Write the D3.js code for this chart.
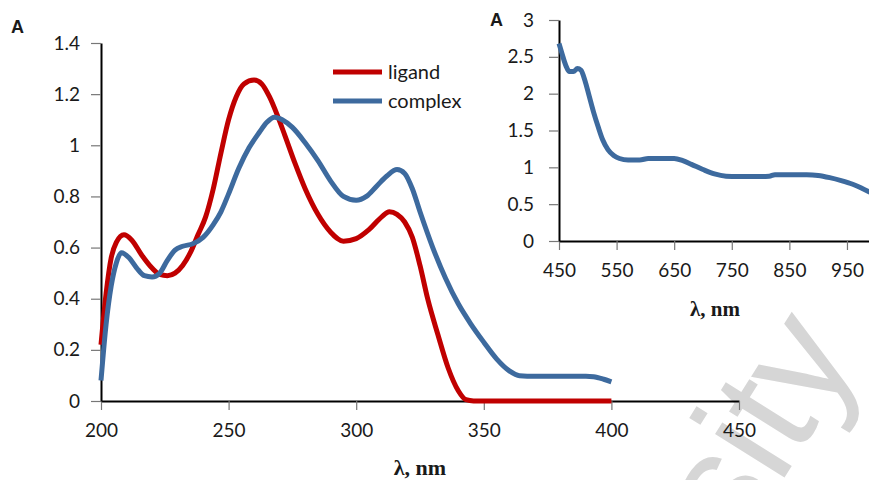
<!DOCTYPE html>
<html>
<head>
<meta charset="utf-8">
<script src="https://cdn.jsdelivr.net/npm/d3@7"></script>
<style>
  body { margin: 0; background: #fff; }
  svg text { font-family: Lato, "Open Sans", sans-serif; }
</style>
</head>
<body>
<script>
const width = 869;
const height = 480;

// main spectrum (200-400 nm)
const seriesNames = ["ligand", "complex"];
const ligandWave = [200, 202, 204, 206, 209, 212, 216, 220, 223, 226, 229, 232, 235, 238, 241, 244, 247, 250, 253, 256, 260, 263, 266, 269, 272, 276, 280, 285, 290, 295, 300, 305, 310, 313, 316, 319, 322, 325, 328, 332, 336, 340, 343, 346, 360, 380, 400];
const ligandAbs = [0.22, 0.42, 0.56, 0.62, 0.65, 0.63, 0.57, 0.52, 0.495, 0.49, 0.5, 0.53, 0.58, 0.65, 0.72, 0.83, 0.97, 1.1, 1.19, 1.24, 1.255, 1.24, 1.19, 1.12, 1.04, 0.93, 0.83, 0.73, 0.66, 0.625, 0.635, 0.67, 0.72, 0.74, 0.73, 0.7, 0.64, 0.53, 0.4, 0.26, 0.13, 0.04, 0.005, 0, 0, 0, 0];
const complexWave = [200, 202, 204, 206, 208, 211, 214, 217, 220, 223, 226, 229, 232, 236, 240, 244, 247, 250, 254, 258, 262, 265, 268, 271, 275, 280, 285, 290, 295, 300, 304, 308, 312, 316, 319, 322, 325, 330, 335, 340, 345, 350, 355, 360, 364, 370, 380, 390, 393, 397, 400];
const complexAbs = [0.08, 0.3, 0.45, 0.54, 0.58, 0.56, 0.52, 0.49, 0.485, 0.5, 0.55, 0.59, 0.605, 0.615, 0.64, 0.69, 0.74, 0.81, 0.91, 0.99, 1.05, 1.09, 1.11, 1.1, 1.07, 1.01, 0.94, 0.86, 0.8, 0.785, 0.8, 0.84, 0.88, 0.905, 0.89, 0.83, 0.74, 0.6, 0.48, 0.38, 0.3, 0.23, 0.165, 0.118, 0.099, 0.097, 0.097, 0.097, 0.095, 0.085, 0.075];
const mainXTicks = [200, 250, 300, 350, 400, 450];
const mainYTicks = [0, 0.2, 0.4, 0.6, 0.8, 1, 1.2, 1.4];

// inset spectrum (450-1000 nm), complex only
const nirWave = [450, 455, 462, 468, 475, 482, 488, 495, 502, 510, 518, 526, 535, 545, 555, 570, 590, 605, 625, 650, 665, 680, 700, 720, 740, 760, 790, 815, 825, 850, 880, 900, 920, 940, 960, 975, 990];
const nirAbs = [2.68, 2.55, 2.38, 2.3, 2.3, 2.34, 2.32, 2.18, 1.98, 1.75, 1.55, 1.37, 1.24, 1.16, 1.12, 1.1, 1.1, 1.12, 1.12, 1.12, 1.09, 1.04, 0.97, 0.91, 0.88, 0.875, 0.875, 0.88, 0.9, 0.9, 0.9, 0.89, 0.86, 0.82, 0.77, 0.72, 0.66];
const insetXTicks = [450, 550, 650, 750, 850, 950];
const insetYTicks = [0, 0.5, 1, 1.5, 2, 2.5, 3];

const colors = ["#C00000", "#3D6A9E"];

const svg = d3.select("body")
  .append("svg")
  .attr("width", width)
  .attr("height", height)
  .style("background", "#fff");

// watermark, runs off the bottom-right corner like in the source
svg.append("text")
  .attr("transform", "translate(738,552) rotate(-58)")
  .style("font-family", "'Liberation Sans', Arial, sans-serif")
  .style("font-size", "155px")
  .style("fill", "#d6d6d6")
  .text("sity");

// scales
const x = d3.scaleLinear().domain([200, 450]).range([101, 739]);
const y = d3.scaleLinear().domain([0, 1.4]).range([401, 43]);
const xi = d3.scaleLinear().domain([450, 990]).range([559, 870]);
const yi = d3.scaleLinear().domain([0, 3]).range([241, 20]);

function styleAxis(g) {
  g.select(".domain").attr("stroke", "#000").attr("stroke-width", 2);
  g.selectAll(".tick line").attr("stroke", "#777").attr("stroke-width", 1.2);
  g.selectAll(".tick text")
    .style("font-size", "19px")
    .attr("fill", "#1a1a1a");
}

// main axes
svg.append("g")
  .attr("transform", "translate(0,401)")
  .call(d3.axisBottom(x).tickValues(mainXTicks).tickSize(9).tickSizeOuter(0).tickPadding(14).tickFormat(d => d))
  .call(styleAxis);

svg.append("g")
  .attr("transform", "translate(101,0)")
  .call(d3.axisLeft(y).tickValues(mainYTicks).tickSize(10).tickSizeOuter(0).tickPadding(11).tickFormat(d => d))
  .call(styleAxis);

// main lines
const line = d3.line()
  .x(d => x(d[0]))
  .y(d => y(d[1]))
  .curve(d3.curveMonotoneX);

svg.append("path")
  .datum(d3.zip(ligandWave, ligandAbs))
  .attr("d", line)
  .attr("fill", "none")
  .attr("stroke", colors[0])
  .attr("stroke-width", 5)
  .attr("stroke-linejoin", "round");

svg.append("path")
  .datum(d3.zip(complexWave, complexAbs))
  .attr("d", line)
  .attr("fill", "none")
  .attr("stroke", colors[1])
  .attr("stroke-width", 5)
  .attr("stroke-linejoin", "round");

// legend
const legend = svg.append("g").attr("transform", "translate(333,72)");
seriesNames.forEach((name, i) => {
  legend.append("line")
    .attr("x1", 0).attr("x2", 49)
    .attr("y1", i * 29).attr("y2", i * 29)
    .attr("stroke", colors[i])
    .attr("stroke-width", 5);
  legend.append("text")
    .attr("x", 55)
    .attr("y", i * 29 + 7)
    .style("font-size", "20px")
    .attr("fill", "#1a1a1a")
    .text(name);
});

// main axis titles
svg.append("text")
  .attr("x", 11).attr("y", 33)
  .style("font-family", "'Liberation Sans', Arial, sans-serif")
  .style("font-size", "18px")
  .style("font-weight", "bold")
  .attr("fill", "#1a1a1a")
  .text("A");

svg.append("text")
  .attr("x", 420).attr("y", 475)
  .attr("text-anchor", "middle")
  .style("font-family", "'Liberation Serif', 'Times New Roman', serif")
  .style("font-size", "22px")
  .style("font-weight", "bold")
  .attr("fill", "#1a1a1a")
  .text("λ, nm");

// inset axes
svg.append("g")
  .attr("transform", "translate(0,241)")
  .call(d3.axisBottom(xi).tickValues(insetXTicks).tickSize(9).tickSizeOuter(0).tickPadding(14).tickFormat(d => d))
  .call(styleAxis);

svg.append("g")
  .attr("transform", "translate(559,0)")
  .call(d3.axisLeft(yi).tickValues(insetYTicks).tickSize(10).tickSizeOuter(0).tickPadding(15).tickFormat(d => d))
  .call(styleAxis);

const insetLine = d3.line()
  .x(d => xi(d[0]))
  .y(d => yi(d[1]))
  .curve(d3.curveMonotoneX);

svg.append("path")
  .datum(d3.zip(nirWave, nirAbs))
  .attr("d", insetLine)
  .attr("fill", "none")
  .attr("stroke", colors[1])
  .attr("stroke-width", 5)
  .attr("stroke-linejoin", "round");

svg.append("text")
  .attr("x", 490).attr("y", 26)
  .style("font-family", "'Liberation Sans', Arial, sans-serif")
  .style("font-size", "18px")
  .style("font-weight", "bold")
  .attr("fill", "#1a1a1a")
  .text("A");

svg.append("text")
  .attr("x", 715).attr("y", 316)
  .attr("text-anchor", "middle")
  .style("font-family", "'Liberation Serif', 'Times New Roman', serif")
  .style("font-size", "21px")
  .style("font-weight", "bold")
  .attr("fill", "#1a1a1a")
  .text("λ, nm");
</script>
</body>
</html>
